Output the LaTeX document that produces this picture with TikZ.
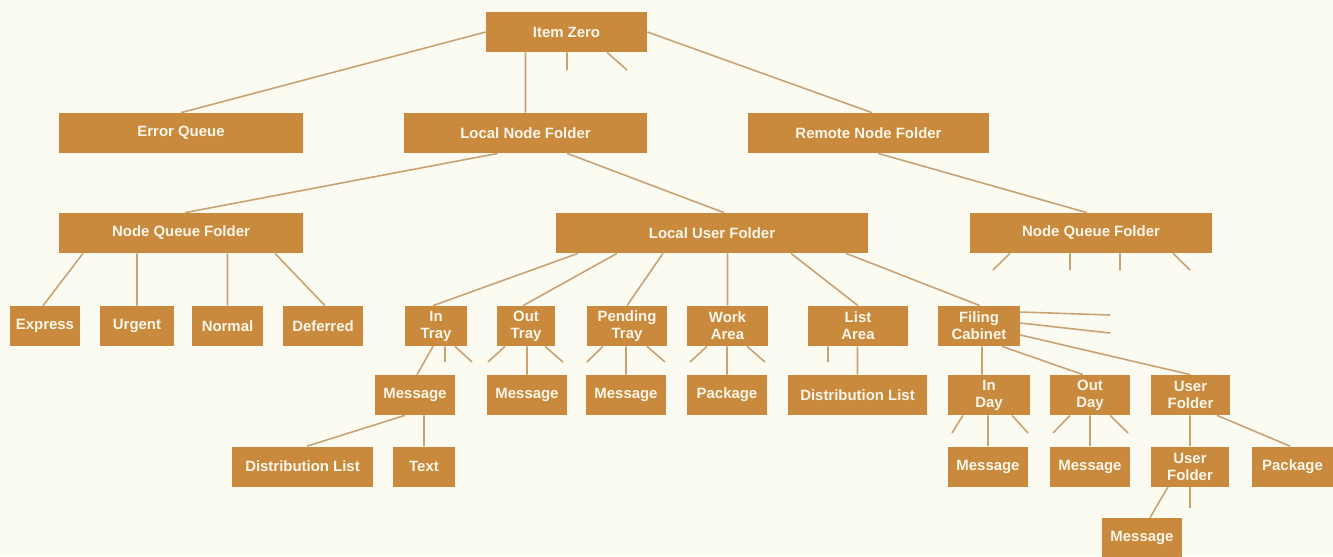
\documentclass[tikz,border=0pt]{standalone}
\usepackage{fontspec}
\setsansfont{Liberation Sans}
\usepackage{tikz}
\definecolor{boxfill}{HTML}{C98A3E}
\definecolor{boxtext}{HTML}{FBF6EA}
\definecolor{linkcol}{HTML}{C9A274}
\definecolor{paper}{HTML}{FCFBF1}
\tikzset{
  box/.style={fill=boxfill, text=boxtext, font=\sffamily\bfseries\fontsize{8.5}{9.6}\selectfont,
    align=center, inner sep=0pt, minimum height=0.8cm},
  wd/.style={minimum width=#1*0.02cm},
  link/.style={draw=linkcol, line width=0.9pt}
}
\begin{document}
\begin{tikzpicture}[x=0.02cm,y=-0.02cm]
\fill[paper] (0,0) rectangle (1333,556);
\useasboundingbox (0,0) rectangle (1333,556);

\node[box,wd=161] (iz) at (566.5,32) {Item Zero};

\node[box,wd=244] (eq) at (181,133) {Error Queue};
\node[box,wd=243] (lnf) at (525.5,133) {Local Node Folder};
\node[box,wd=241] (rnf) at (868.5,133) {Remote Node Folder};

\node[box,wd=244] (nqf) at (181,233) {Node Queue Folder};
\node[box,wd=312] (luf) at (712,233) {Local User Folder};
\node[box,wd=242] (rnqf) at (1091,233) {Node Queue Folder};

\node[box,wd=70] (ex) at (45,326) {Express};
\node[box,wd=74] (ur) at (137,326) {Urgent};
\node[box,wd=71] (no) at (227.5,326) {Normal};
\node[box,wd=80] (de) at (323,326) {Deferred};
\node[box,wd=62] (it) at (436,326) {In\\Tray};
\node[box,wd=58] (ot) at (526,326) {Out\\Tray};
\node[box,wd=80] (pt) at (627,326) {Pending\\Tray};
\node[box,wd=81] (wa) at (727.5,326) {Work\\Area};
\node[box,wd=100] (la) at (858,326) {List\\Area};
\node[box,wd=82] (fc) at (979,326) {Filing\\Cabinet};

\node[box,wd=80] (m1) at (415,395) {Message};
\node[box,wd=80] (m2) at (527,395) {Message};
\node[box,wd=80] (m3) at (626,395) {Message};
\node[box,wd=80] (p1) at (727,395) {Package};
\node[box,wd=139] (dl1) at (857.5,395) {Distribution List};
\node[box,wd=82] (id) at (989,395) {In\\Day};
\node[box,wd=80] (od) at (1090,395) {Out\\Day};
\node[box,wd=79] (uf1) at (1190.5,395) {User\\Folder};

\node[box,wd=141] (dl2) at (302.5,466.5) {Distribution List};
\node[box,wd=62] (tx) at (424,466.5) {Text};
\node[box,wd=80] (m4) at (988,466.5) {Message};
\node[box,wd=80] (m5) at (1090,466.5) {Message};
\node[box,wd=78] (uf2) at (1190,466.5) {User\\Folder};
\node[box,wd=81] (p2) at (1292.5,466.5) {Package};

\node[box,wd=80] (m6) at (1142,538) {Message};

\coordinate (s1) at (567,70);
\coordinate (s2) at (627,70);
\coordinate (r1) at (993,270);
\coordinate (r2) at (1070,270);
\coordinate (r3) at (1120,270);
\coordinate (r4) at (1190,270);
\coordinate (t1) at (445,362);
\coordinate (t2) at (472,362);
\coordinate (o1) at (488,362);
\coordinate (o2) at (563,362);
\coordinate (q1) at (587,362);
\coordinate (q2) at (665,362);
\coordinate (w1) at (690,362);
\coordinate (w2) at (765,362);
\coordinate (l1) at (828,362);
\coordinate (f1) at (1110,315);
\coordinate (f2) at (1110,333);
\coordinate (d1) at (952,433);
\coordinate (d2) at (1028,433);
\coordinate (e1) at (1053,433);
\coordinate (e2) at (1128,433);
\coordinate (u1) at (1190,508);

\draw[link] (iz.west) -- (eq.north)
  (lnf.north |- iz.south) -- (lnf.north)
  (s1 |- iz.south) -- (s1)
  (iz.south -| 607,0) -- (s2)
  (iz.east) -- (rnf.north -| 872,0)
  (lnf.south -| 498,0) -- (nqf.north -| 185,0)
  (lnf.south -| 567,0) -- (luf.north -| 724,0)
  (rnf.south -| 878,0) -- (rnqf.north -| 1087,0)
  (nqf.south -| 83,0) -- (ex.north -| 43,0)
  (ur.north |- nqf.south) -- (ur.north)
  (no.north |- nqf.south) -- (no.north)
  (nqf.south -| 275,0) -- (de.north -| 325,0)
  (rnqf.south -| 1010,0) -- (r1)
  (r2 |- rnqf.south) -- (r2)
  (r3 |- rnqf.south) -- (r3)
  (rnqf.south -| 1173,0) -- (r4)
  (luf.south -| 578,0) -- (it.north -| 433,0)
  (luf.south -| 617,0) -- (ot.north -| 523,0)
  (luf.south -| 663,0) -- (pt.north)
  (wa.north |- luf.south) -- (wa.north)
  (luf.south -| 791,0) -- (la.north)
  (luf.south -| 846,0) -- (fc.north -| 980,0)
  (it.south -| 433,0) -- (m1.north -| 417,0)
  (t1 |- it.south) -- (t1)
  (it.south -| 455,0) -- (t2)
  (ot.south -| 505,0) -- (o1)
  (m2.north |- ot.south) -- (m2.north)
  (ot.south -| 545,0) -- (o2)
  (pt.south -| 603,0) -- (q1)
  (m3.north |- pt.south) -- (m3.north)
  (pt.south -| 647,0) -- (q2)
  (wa.south -| 707,0) -- (w1)
  (p1.north |- wa.south) -- (p1.north)
  (wa.south -| 747,0) -- (w2)
  (l1 |- la.south) -- (l1)
  (dl1.north |- la.south) -- (dl1.north)
  (fc.east |- 0,312) -- (f1)
  (fc.east |- 0,323) -- (f2)
  (fc.east |- 0,335) -- (uf1.north)
  (fc.south -| 982,0) -- (id.north -| 982,0)
  (fc.south -| 1002,0) -- (od.north -| 1083,0)
  (id.south -| 963,0) -- (d1)
  (m4.north |- id.south) -- (m4.north)
  (id.south -| 1012,0) -- (d2)
  (od.south -| 1070,0) -- (e1)
  (m5.north |- od.south) -- (m5.north)
  (od.south -| 1110,0) -- (e2)
  (uf2.north |- uf1.south) -- (uf2.north)
  (uf1.south -| 1217,0) -- (p2.north -| 1290,0)
  (uf2.south -| 1168,0) -- (m6.north -| 1150,0)
  (u1 |- uf2.south) -- (u1)
  (m1.south -| 405,0) -- (dl2.north -| 307,0)
  (tx.north |- m1.south) -- (tx.north);
\end{tikzpicture}
\end{document}
